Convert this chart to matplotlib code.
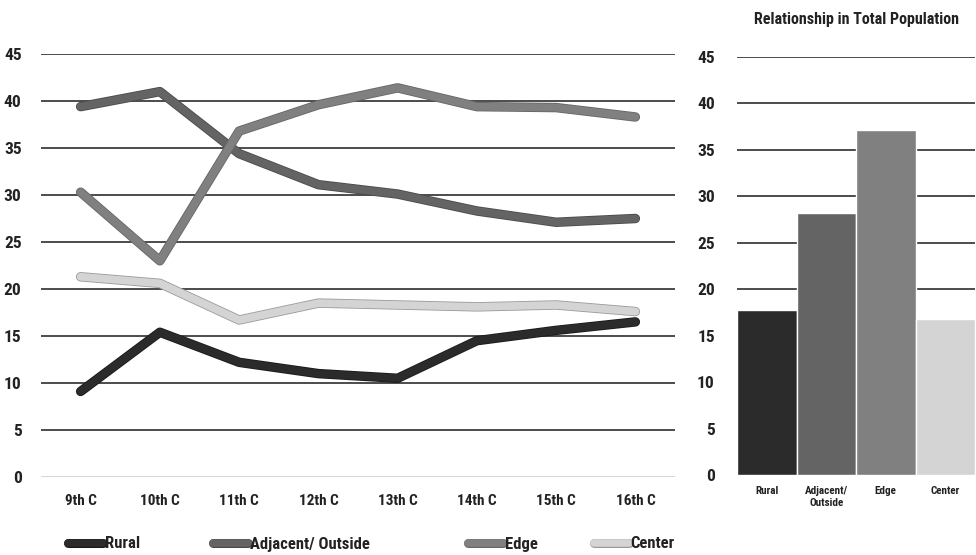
import matplotlib.pyplot as plt
import matplotlib.patheffects as pe
from matplotlib.lines import Line2D

plt.rcParams['font.family'] = ['Roboto Condensed', 'DejaVu Sans']
plt.rcParams['font.weight'] = 'bold'

centuries = ['9th C', '10th C', '11th C', '12th C', '13th C', '14th C', '15th C', '16th C']
rural = [9.1, 15.4, 12.2, 11.0, 10.5, 14.5, 15.6, 16.5]
adjacent = [39.4, 41.0, 34.4, 31.1, 30.1, 28.3, 27.1, 27.5]
edge = [30.3, 23.0, 36.8, 39.6, 41.4, 39.4, 39.3, 38.3]
center = [21.3, 20.6, 16.7, 18.5, 18.3, 18.1, 18.3, 17.6]

bar_labels = ['Rural', 'Adjacent/\nOutside', 'Edge', 'Center']
bar_values = [17.8, 28.2, 37.1, 16.8]

names = ['Rural', 'Adjacent/ Outside', 'Edge', 'Center']
colors = ['#2b2b2b', '#646464', '#808080', '#d4d4d4']
edges = ['#1a1a1a', '#4a4a4a', '#666666', '#9a9a9a']

txt = '#222222'

fig = plt.figure(figsize=(9.76, 5.55), dpi=100)

# line chart
ax = fig.add_axes([41 / 976, 78 / 555, 634 / 976, 423 / 555])
series = [rural, adjacent, edge, center]
x = range(len(centuries))
for vals, c, ec in zip(series, colors, edges):
	ax.plot(x, vals, color=c, lw=5.6, solid_capstyle='round', solid_joinstyle='round',
	        path_effects=[pe.Stroke(linewidth=6.8, foreground=ec), pe.Normal()], zorder=3)
ax.set_xlim(-0.5, len(centuries) - 0.5)
ax.set_ylim(0, 45)
ax.set_yticks(range(0, 46, 5))
ax.set_xticks(list(x))
ax.set_xticklabels(centuries, fontsize=11, color=txt, fontweight='bold')
ax.tick_params(axis='y', length=0, pad=14, labelsize=12.5, labelcolor=txt)
ax.tick_params(axis='x', length=0, pad=12)
for lab in ax.get_yticklabels():
	lab.set_fontweight('bold')
ax.grid(axis='y', color='#2e2e2e', lw=1.2, zorder=0)
ax.get_ygridlines()[0].set_color('#d0d0d0')
for s in ax.spines.values():
	s.set_visible(False)

# bar chart
bx = fig.add_axes([737 / 976, 80 / 555, 238 / 976, 418 / 555])
bx.bar(range(len(bar_values)), bar_values, width=1.0, color=colors, edgecolor='white', lw=1, zorder=3)
bx.set_xlim(-0.5, len(bar_values) - 0.5)
bx.set_ylim(0, 45)
bx.set_yticks(range(0, 46, 5))
bx.set_xticks(range(len(bar_labels)))
bx.set_xticklabels(bar_labels, fontsize=8, color=txt, linespacing=1.2, fontweight='bold')
bx.tick_params(axis='y', length=0, pad=16, labelsize=12.5, labelcolor=txt)
bx.tick_params(axis='x', length=0, pad=8)
for lab in bx.get_yticklabels():
	lab.set_fontweight('bold')
bx.grid(axis='y', color='#2e2e2e', lw=1.2, zorder=0)
bx.get_ygridlines()[0].set_color('#d0d0d0')
for s in bx.spines.values():
	s.set_visible(False)
bx.set_title('Relationship in Total Population', fontsize=11.5, color=txt, pad=24, x=0.5,
             fontweight='bold')

# legend, one entry at a time so the spacing follows the original
starts = [68, 213, 468, 594]
for name, c, ec, sx in zip(names, colors, edges, starts):
	h = Line2D([], [], color=c, lw=5.5, solid_capstyle='round',
	           path_effects=[pe.Stroke(linewidth=6.5, foreground=ec), pe.Normal()])
	leg = fig.legend([h], [name], loc='center left', bbox_to_anchor=(sx / 976, 1 - 544 / 555),
	                 frameon=False, handlelength=2.1, handletextpad=0.1, borderaxespad=0, borderpad=0,
	                 prop={'size': 12, 'weight': 'bold'})
	for t in leg.get_texts():
		t.set_color(txt)

fig.savefig('out.png', dpi=100)
